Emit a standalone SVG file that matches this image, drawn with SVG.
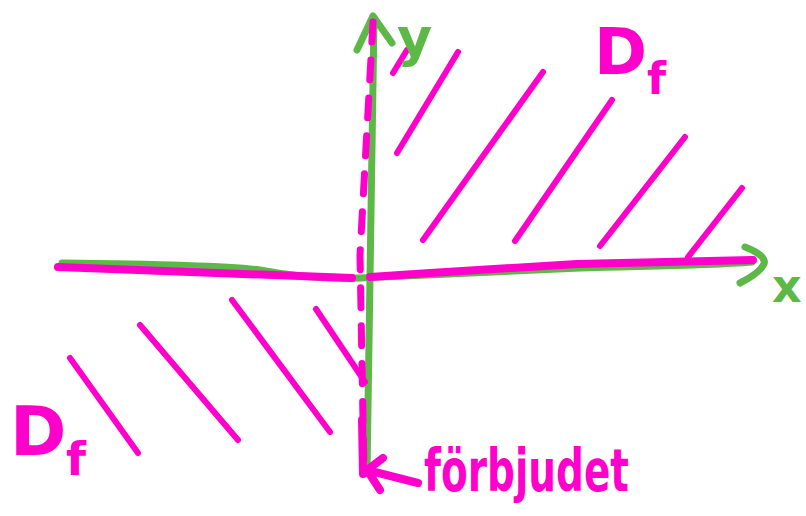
<svg xmlns="http://www.w3.org/2000/svg" width="806" height="516" viewBox="0 0 806 516">
<defs>
<style>
.g{fill:none;stroke:#5db847;stroke-width:7;stroke-linecap:round;stroke-linejoin:round}
.m{fill:none;stroke:#ff00cc;stroke-width:8;stroke-linecap:round;stroke-linejoin:round}
.h{fill:none;stroke:#ff00cc;stroke-width:6;stroke-linecap:round}
.d{fill:none;stroke:#ff00cc;stroke-width:7;stroke-linecap:round;stroke-dasharray:20 18}
.lm{fill:#ff00cc;font-family:"DejaVu Sans","Liberation Sans",sans-serif;font-weight:bold}
.lg{fill:#5db847;font-family:"DejaVu Sans","Liberation Sans",sans-serif;font-weight:bold}
</style>
</defs>
<rect width="806" height="516" fill="#ffffff"/>
<g id="axes">
<path class="g" d="M62,263 C150,264 230,266 260,270 C290,276 320,279 360,278 L580,268 C640,266 700,266 752,262"/>
<path class="g" d="M745,247 C758,252 766,258 764,264 C760,272 750,278 740,283"/>
<path class="g" d="M367,472 L374,18"/>
<path class="g" d="M357,50 L373,16 L392,43"/>
</g>
<g id="connectors">
<path class="m" d="M58,267 L352,278"/>
<path class="m" d="M370,277 L430,273 L577,264 L753,260"/>
<path class="d" d="M373,22 L360,255 L364,475"/>
<path class="m" d="M362,420 L363,474"/>
<path class="m" d="M383,458 L367,470 L380,490 M367,470 L418,483"/>
</g>
<g id="hatch-upper">
<line class="h" x1="393" y1="73" x2="407" y2="50"/>
<line class="h" x1="397" y1="153" x2="458" y2="52"/>
<line class="h" x1="423" y1="240" x2="543" y2="72"/>
<line class="h" x1="515" y1="241" x2="612" y2="100"/>
<line class="h" x1="600" y1="246" x2="685" y2="137"/>
<line class="h" x1="688" y1="257" x2="742" y2="188"/>
</g>
<g id="hatch-lower">
<line class="h" x1="70" y1="358" x2="138" y2="453"/>
<line class="h" x1="140" y1="325" x2="238" y2="440"/>
<line class="h" x1="232" y1="300" x2="330" y2="432"/>
<line class="h" x1="316" y1="309" x2="365" y2="382"/>
</g>
<g id="label-y"><text class="lg" x="397" y="56" font-size="54">y</text></g>
<g id="label-x"><text class="lg" x="772" y="302" font-size="46">x</text></g>
<g id="label-df-top"><text class="lm" x="594" y="74" font-size="64">D</text><text class="lm" x="647" y="94" font-size="44">f</text></g>
<g id="label-df-bottom"><text class="lm" x="10" y="455" font-size="68">D</text><text class="lm" x="66" y="475" font-size="46">f</text></g>
<g id="label-forbjudet"><text class="lm" x="424" y="491" font-size="58" textLength="205" lengthAdjust="spacingAndGlyphs">förbjudet</text></g>
</svg>
